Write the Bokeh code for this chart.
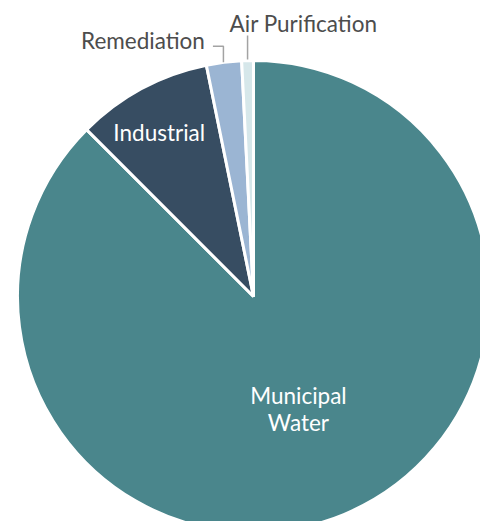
import math
from bokeh.plotting import figure
from bokeh.models import Range1d, ColumnDataSource
from bokeh.core.properties import value
from bokeh.embed import file_html
from bokeh.resources import INLINE

# ---- data ----
categories = ["Municipal Water", "Industrial", "Remediation", "Air Purification"]
shares = [87.5, 9.3, 2.4, 0.8]
colors = ["#4A868C", "#374D62", "#9BB5D3", "#D6E7EA"]
label_lines = [["Municipal", "Water"], ["Industrial"], ["Remediation"], ["Air Purification"]]

# ---- layout ----
W, H = 480, 521
CX, CY, R = 253, 225, 236
FONT = "Lato"
FS = "22.5px"
LINE_H = 27
TSHIFT = 8  # vertical text correction

p = figure(width=W, height=H, output_backend="svg", toolbar_location=None,
           x_range=Range1d(0, W), y_range=Range1d(0, H),
           min_border=0, min_border_left=0, min_border_right=0,
           min_border_top=0, min_border_bottom=0)
p.axis.visible = False
p.grid.visible = False
p.outline_line_color = None
p.background_fill_color = "white"

total = sum(shares)
starts, ends, mids = [], [], []
a = math.pi / 2
for s in shares:
    da = 2 * math.pi * s / total
    starts.append(a)
    ends.append(a - da)
    mids.append(a - da / 2)
    a -= da

src = ColumnDataSource(dict(start=starts, end=ends, color=colors, cat=categories))
p.wedge(x=CX, y=CY, radius=R, start_angle="start", end_angle="end",
        direction="clock", fill_color="color", line_color="white",
        line_width=3, source=src)

# inside labels: (radius factor, angle tweak deg) -> anchor = centre of text block
inside = {0: (0.515, -0.8), 1: (0.80, 1.7)}
tx, ty, tt = [], [], []
for i, (f, tweak) in inside.items():
    m = mids[i] + math.radians(tweak)
    ax = CX + f * R * math.cos(m)
    ay = CY + f * R * math.sin(m)
    lines = label_lines[i]
    n = len(lines)
    for k, ln in enumerate(lines):
        tx.append(ax)
        ty.append(ay + (n - 1) * LINE_H / 2 - k * LINE_H - 8 + TSHIFT)
        tt.append(ln)
p.text(x=tx, y=ty, text=tt, text_color="white", text_font=value(FONT),
       text_font_size=FS, text_align="center", text_baseline="alphabetic")

LEAD = "#A3A3A3"
TXT = "#4D4D4D"

# Remediation: up from arc, then left
m = mids[2]
x0, y0 = CX + R * math.cos(m), CY + R * math.sin(m)
yl = y0 + 16
p.line([x0 - 0.5, x0 - 0.5, x0 - 11], [y0, yl, yl], line_color=LEAD, line_width=1.5)
p.text(x=[x0 - 19], y=[yl - 2 + TSHIFT], text=label_lines[2], text_color=TXT,
       text_font=value(FONT), text_font_size=FS, text_align="right",
       text_baseline="alphabetic")

# Air Purification: straight up
m = mids[3]
x1, y1 = CX + R * math.cos(m), CY + R * math.sin(m)
p.line([x1, x1], [y1 + 1, y1 + 25], line_color=LEAD, line_width=1.5)
p.text(x=[x1 - 18], y=[y1 + 29 + TSHIFT], text=label_lines[3], text_color=TXT,
       text_font=value(FONT), text_font_size=FS, text_align="left",
       text_baseline="alphabetic")

open("out.html", "w").write(file_html(p, INLINE))
